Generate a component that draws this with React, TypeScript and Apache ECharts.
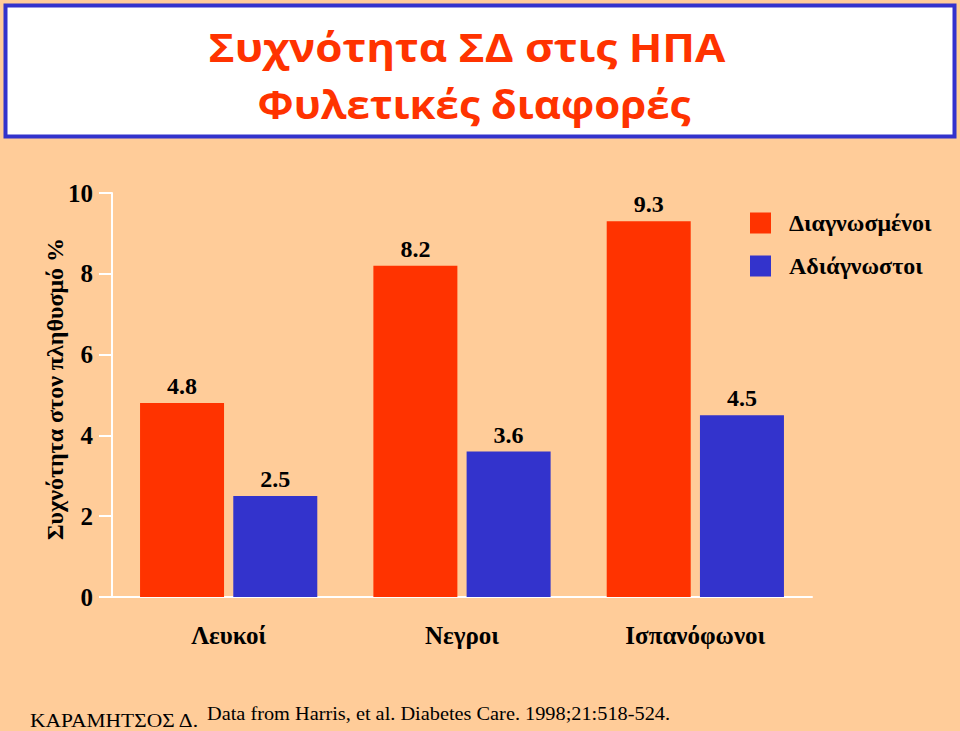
import React, { useEffect, useRef } from "react";
import * as echarts from "echarts";

const categories = ["Λευκοί", "Νεγροι", "Ισπανόφωνοι"];
const diagnosed = [4.8, 8.2, 9.3];
const undiagnosed = [2.5, 3.6, 4.5];
const seriesNames = ["Διαγνωσμένοι", "Αδιάγνωστοι"];
const titleLines = ["Συχνότητα ΣΔ στις ΗΠΑ", "Φυλετικές διαφορές"];
const yAxisName = "Συχνότητα στον πληθυσμό %";
const authorText = "ΚΑΡΑΜΗΤΣΟΣ Δ.";
const sourceText = "Data from Harris, et al. Diabetes Care. 1998;21:518-524.";

const SERIF = "'Liberation Serif', 'Times New Roman', serif";
const SANS = "'Open Sans', 'Noto Sans', sans-serif";

export default function App() {
  const ref = useRef<HTMLDivElement>(null);
  useEffect(() => {
    document.body.style.margin = "0";
    const chart = echarts.init(ref.current!, null, { renderer: "svg" });
    const labelStyle = {
      show: true,
      position: "top",
      distance: 5,
      fontFamily: SERIF,
      fontWeight: "bold",
      fontSize: 24,
      color: "#000",
    };
    chart.setOption({
      animation: false,
      backgroundColor: "#FFCC99",
      grid: { left: 112, right: 148, top: 193, bottom: 134, containLabel: false },
      legend: {
        orient: "vertical",
        left: 750,
        top: 211,
        padding: 0,
        itemWidth: 21,
        itemHeight: 21,
        itemGap: 19,
        icon: "rect",
        data: seriesNames,
        textStyle: {
          fontFamily: SERIF,
          fontWeight: "bold",
          fontSize: 24,
          color: "#000",
          padding: [0, 0, 0, 13],
        },
      },
      xAxis: {
        type: "category",
        data: categories,
        axisLine: { lineStyle: { color: "#FFFFFF", width: 2 } },
        axisTick: { show: false },
        axisLabel: {
          margin: 26,
          fontFamily: SERIF,
          fontWeight: "bold",
          fontSize: 25,
          color: "#000",
        },
      },
      yAxis: {
        type: "value",
        min: 0,
        max: 10,
        interval: 2,
        name: yAxisName,
        nameLocation: "middle",
        nameGap: 45,
        nameMoveOverlap: false,
        nameTextStyle: {
          fontFamily: SERIF,
          fontWeight: "bold",
          fontSize: 24,
          color: "#000",
          padding: [0, 0, 0, 12],
        },
        splitLine: { show: false },
        axisLine: { show: true, lineStyle: { color: "#FFFFFF", width: 2 } },
        axisTick: { show: true, length: 13, lineStyle: { color: "#FFFFFF", width: 2 } },
        axisLabel: {
          margin: 19,
          fontFamily: SERIF,
          fontWeight: "bold",
          fontSize: 25,
          color: "#000",
        },
      },
      series: [
        {
          name: seriesNames[0],
          type: "bar",
          data: diagnosed,
          barWidth: 84,
          barGap: "11%",
          itemStyle: { color: "#FF3300" },
          label: labelStyle,
        },
        {
          name: seriesNames[1],
          type: "bar",
          data: undiagnosed,
          barWidth: 84,
          itemStyle: { color: "#3333CC" },
          label: labelStyle,
        },
      ],
      graphic: [
        {
          type: "rect",
          shape: { x: 5.5, y: 5.5, width: 949, height: 131 },
          style: { fill: "#FFFFFF", stroke: "#3333CC", lineWidth: 4 },
          z: 0,
        },
        {
          type: "text",
          x: 467,
          y: 46,
          scaleX: 1.1,
          style: {
            text: titleLines[0],
            fill: "#FF3300",
            font: `bold 40px ${SANS}`,
            align: "center",
            verticalAlign: "middle",
          },
        },
        {
          type: "text",
          x: 474,
          y: 103,
          scaleX: 1.05,
          style: {
            text: titleLines[1],
            fill: "#FF3300",
            font: `bold 40px ${SANS}`,
            align: "center",
            verticalAlign: "middle",
          },
        },
        {
          type: "text",
          x: 30,
          y: 720,
          scaleX: 1.13,
          style: {
            text: authorText,
            fill: "#000",
            font: `19px ${SERIF}`,
            align: "left",
            verticalAlign: "middle",
          },
        },
        {
          type: "text",
          x: 207,
          y: 713,
          scaleX: 1.07,
          style: {
            text: sourceText,
            fill: "#000",
            font: `19px ${SERIF}`,
            align: "left",
            verticalAlign: "middle",
          },
        },
      ],
    });
    return () => chart.dispose();
  }, []);
  return (
    <div
      ref={ref}
      style={{ position: "absolute", left: 0, top: 0, width: 960, height: 731 }}
    />
  );
}
